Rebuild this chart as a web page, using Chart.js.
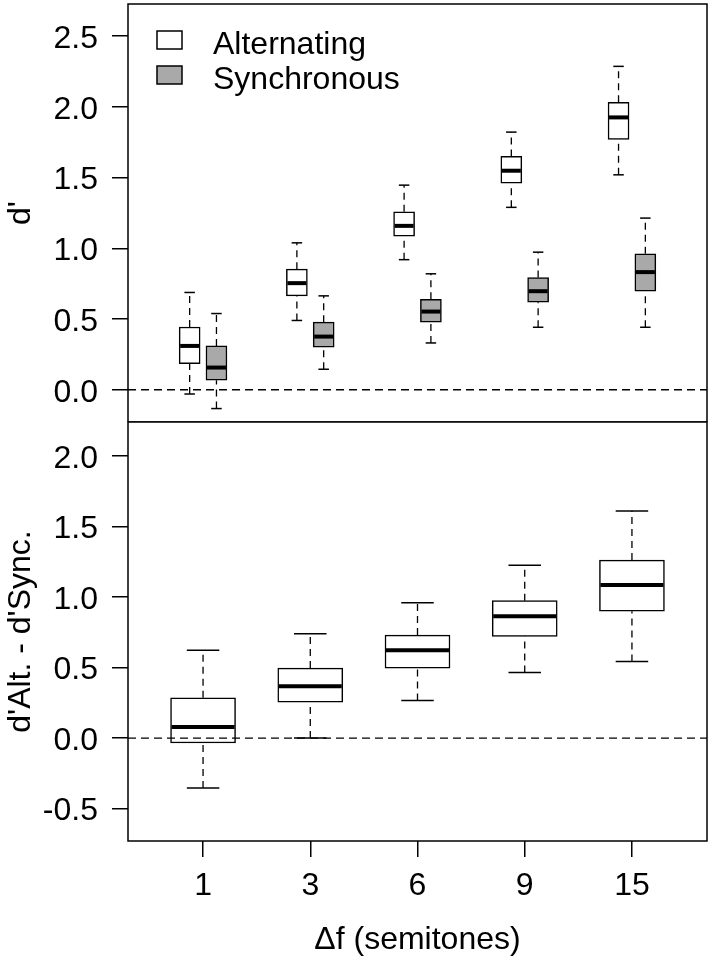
<!DOCTYPE html>
<html>
<head>
<meta charset="utf-8">
<script src="https://cdn.jsdelivr.net/npm/chart.js@4.4.1/dist/chart.umd.min.js"></script>
<style>
  html, body { margin: 0; padding: 0; background: #fff; }
  #wrap { position: relative; width: 711px; height: 961px; }
  #top { position: absolute; left: 0; top: 0; }
  #bottom { position: absolute; left: 0; top: 421px; }
</style>
</head>
<body>
<div id="wrap">
  <canvas id="top" width="711" height="422"></canvas>
  <canvas id="bottom" width="711" height="540"></canvas>
</div>
<script>
// delta f (semitones)
var categories = ['1', '3', '6', '9', '15'];

// top panel, d' : lower whisker, Q1, median, Q3, upper whisker
var altLow  = [-0.03, 0.49, 0.92, 1.29, 1.52];
var altQ1   = [0.185, 0.664, 1.086, 1.461, 1.771];
var altMed  = [0.31, 0.754, 1.159, 1.549, 1.926];
var altQ3   = [0.444, 0.853, 1.258, 1.65, 2.033];
var altHigh = [0.688, 1.039, 1.447, 1.822, 2.287];

var syncLow  = [-0.133, 0.145, 0.331, 0.442, 0.442];
var syncQ1   = [0.067, 0.301, 0.478, 0.619, 0.697];
var syncMed  = [0.157, 0.376, 0.553, 0.697, 0.832];
var syncQ3   = [0.31, 0.478, 0.64, 0.794, 0.961];
var syncHigh = [0.539, 0.664, 0.82, 0.973, 1.214];

// bottom panel, d'Alt. - d'Sync.
var diffLow  = [-0.355, 0.0, 0.267, 0.464, 0.542];
var diffQ1   = [-0.035, 0.255, 0.496, 0.721, 0.899];
var diffMed  = [0.078, 0.367, 0.622, 0.863, 1.085];
var diffQ3   = [0.286, 0.496, 0.73, 0.974, 1.262];
var diffHigh = [0.622, 0.74, 0.96, 1.225, 1.61];

var topTicks = [0, 0.5, 1, 1.5, 2, 2.5];
var bottomTicks = [-0.5, 0, 0.5, 1, 1.5, 2];
var legendLabels = ['Alternating', 'Synchronous'];

var WHITE = '#ffffff';
var GREY = '#a9a9a9';
var X_MIN = 0.3, X_MAX = 5.7;

Chart.defaults.font.family = '"Liberation Sans", Arial, sans-serif';
Chart.defaults.font.size = 32;
Chart.defaults.color = '#000';

function boxSets(shift, low, q1, med, q3, high, fill, width) {
    var pos = categories.map(function (c, i) { return i + 1 + shift; });
    var whisk = [], caps = [];
    pos.forEach(function (p, i) {
        whisk.push({x: p, y: q3[i]}, {x: p, y: high[i]}, {x: p, y: null},
                   {x: p, y: low[i]}, {x: p, y: q1[i]}, {x: p, y: null});
        caps.push({x: p, y: high[i]}, {x: p, y: low[i]});
    });
    return [
        {
            type: 'bar', order: 3,
            data: pos.map(function (p, i) { return {x: p, y: [q1[i], q3[i]]}; }),
            backgroundColor: fill, borderColor: '#000', borderWidth: 1.5,
            borderSkipped: false, barThickness: width, grouped: false
        },
        {
            type: 'line', order: 0, showLine: false,
            data: pos.map(function (p, i) { return {x: p, y: med[i]}; }),
            pointStyle: 'line', pointRadius: width / 2 - 1, pointBorderWidth: 4,
            pointBorderColor: '#000'
        },
        {
            type: 'line', order: 2, showLine: false, data: caps,
            pointStyle: 'line', pointRadius: width / 4, pointBorderWidth: 1.5,
            pointBorderColor: '#000'
        },
        {
            type: 'line', order: 4, data: whisk, spanGaps: false,
            borderColor: '#000', borderWidth: 1.3, borderDash: [7, 5], pointRadius: 0
        }
    ];
}

function zeroLine() {
    return {
        type: 'line', order: 1, data: [{x: X_MIN, y: 0}, {x: X_MAX, y: 0}],
        borderColor: '#000', borderWidth: 1.3, borderDash: [8, 5], pointRadius: 0
    };
}

var framePlugin = {
    id: 'frame',
    afterDraw: function (chart) {
        var a = chart.chartArea, ctx = chart.ctx;
        ctx.save();
        ctx.lineWidth = 1.5;
        ctx.strokeStyle = '#000';
        ctx.strokeRect(a.left, a.top, a.right - a.left, a.bottom - a.top);
        ctx.restore();
    }
};

var legendPlugin = {
    id: 'boxLegend',
    afterDraw: function (chart) {
        var a = chart.chartArea, ctx = chart.ctx;
        var fills = [WHITE, GREY];
        ctx.save();
        ctx.font = '32px "Liberation Sans", Arial, sans-serif';
        legendLabels.forEach(function (lab, i) {
            var x = a.left + 29, y = a.top + 27 + i * 35;
            ctx.fillStyle = fills[i];
            ctx.fillRect(x, y, 25, 18);
            ctx.lineWidth = 1.5;
            ctx.strokeStyle = '#000';
            ctx.strokeRect(x, y, 25, 18);
            ctx.fillStyle = '#000';
            ctx.textBaseline = 'alphabetic';
            ctx.fillText(lab, x + 56, y + 23);
        });
        ctx.restore();
    }
};

function yAxis(min, max, ticks, title) {
    return {
        type: 'linear', min: min, max: max,
        afterFit: function (s) { s.width = 128; s.paddingTop = 0; s.paddingBottom = 0; },
        afterBuildTicks: function (s) { s.ticks = ticks.map(function (v) { return {value: v}; }); },
        ticks: {
            padding: 14, labelOffset: 3,
            callback: function (v) { return Number(v).toFixed(1); }
        },
        grid: { drawOnChartArea: false, drawTicks: true, tickLength: 16, color: '#000', lineWidth: 1.5 },
        border: { display: false },
        title: { display: true, text: title, padding: {top: 2, bottom: 0} }
    };
}

var common = {
    responsive: false,
    devicePixelRatio: 1,
    animation: false,
    events: [],
    plugins: { legend: { display: false }, tooltip: { enabled: false } }
};

new Chart(document.getElementById('top'), {
    type: 'bar',
    data: {
        datasets: [].concat(
            boxSets(-0.125, altLow, altQ1, altMed, altQ3, altHigh, WHITE, 21),
            boxSets(0.125, syncLow, syncQ1, syncMed, syncQ3, syncHigh, GREY, 21),
            [zeroLine()]
        )
    },
    options: Object.assign({}, common, {
        layout: { autoPadding: false, padding: {top: 4, right: 4, left: 0, bottom: 0} },
        scales: {
            x: { type: 'linear', min: X_MIN, max: X_MAX, offset: false, display: false },
            y: yAxis(-0.228, 2.728, topTicks, "d'")
        }
    }),
    plugins: [framePlugin, legendPlugin]
});

new Chart(document.getElementById('bottom'), {
    type: 'bar',
    data: {
        datasets: [].concat(
            boxSets(0, diffLow, diffQ1, diffMed, diffQ3, diffHigh, WHITE, 65),
            [zeroLine()]
        )
    },
    options: Object.assign({}, common, {
        layout: { autoPadding: false, padding: {top: 1, right: 4, left: 0, bottom: 0} },
        scales: {
            x: {
                type: 'linear', min: X_MIN, max: X_MAX, offset: false,
                afterFit: function (s) { s.height = 120; s.paddingLeft = 0; s.paddingRight = 0; },
                afterBuildTicks: function (s) { s.ticks = categories.map(function (c, i) { return {value: i + 1}; }); },
                ticks: {
                    padding: 10, maxRotation: 0, autoSkip: false,
                    callback: function (v) { return categories[Math.round(v) - 1]; }
                },
                grid: { offset: false, drawOnChartArea: false, drawTicks: true, tickLength: 16, color: '#000', lineWidth: 1.5 },
                border: { display: false },
                title: { display: true, text: '\u0394f (semitones)', padding: {top: 0, bottom: 2} }
            },
            y: yAxis(-0.73, 2.241, bottomTicks, "d'Alt. - d'Sync.")
        }
    }),
    plugins: [framePlugin]
});
</script>
</body>
</html>
